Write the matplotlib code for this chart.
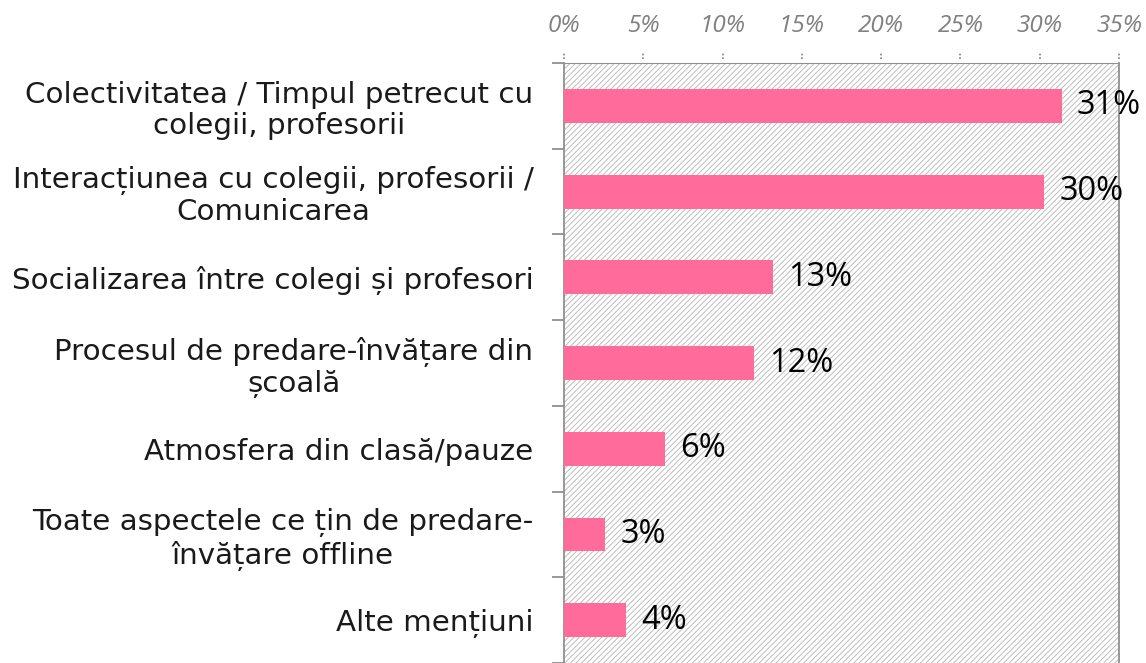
import matplotlib
matplotlib.use("Agg")
import matplotlib.pyplot as plt
import matplotlib.transforms as mtransforms
import numpy as np

categories = [
    "Colectivitatea / Timpul petrecut cu\ncolegii, profesorii",
    "Interacțiunea cu colegii, profesorii /\nComunicarea",
    "Socializarea între colegi și profesori",
    "Procesul de predare-învățare din\nșcoală",
    "Atmosfera din clasă/pauze",
    "Toate aspectele ce țin de predare-\nînvățare offline",
    "Alte mențiuni",
]
values = [31.4, 30.3, 13.2, 12.0, 6.4, 2.6, 3.9]
value_labels = ["31%", "30%", "13%", "12%", "6%", "3%", "4%"]
xticks = [0, 5, 10, 15, 20, 25, 30, 35]
xtick_labels = ["0%", "5%", "10%", "15%", "20%", "25%", "30%", "35%"]

plt.rcParams['hatch.linewidth'] = 0.7
plt.rcParams['hatch.color'] = '#bdbdbd'

W, H = 1146, 663
fig = plt.figure(figsize=(W / 100, H / 100), dpi=100)
left, right, top, bottom = 564, 1119, 63, 663
ax = fig.add_axes([left / W, 1 - bottom / H, (right - left) / W, (bottom - top) / H])

ax.patch.set_facecolor('white')
ax.patch.set_hatch('//////')
ax.patch.set_edgecolor('#bdbdbd')

y = np.arange(len(categories))
ax.barh(y, values, height=0.395, color='#ff6b9a', zorder=3)
ax.set_xlim(0, 35)
ax.set_ylim(6.476, -0.5)

for yi, v, lab in zip(y, values, value_labels):
    ax.text(v + 0.95, yi, lab, va='center', ha='left', fontsize=23.5,
            family='Open Sans', color='black', zorder=4)

# x axis on top
ax.xaxis.tick_top()
ax.set_xticks(xticks)
ax.set_xticklabels(xtick_labels, fontsize=17.5, style='italic', color='#808080',
                   family='Open Sans')
ax.tick_params(axis='x', length=0, pad=18)
# small dotted tick marks detached from the top spine
trans = mtransforms.blended_transform_factory(ax.transData, ax.transAxes)
ax.vlines(xticks, 1.0065, 1.016, transform=trans, colors='#808080',
          linestyles=(0, (1, 1.2)), linewidth=1.2, clip_on=False)

# y axis: ticks at boundaries, labels at centers
ax.set_yticks(np.arange(len(categories) + 1) - 0.5)
ax.set_yticklabels([])
ax.tick_params(axis='y', which='major', length=9, color='#909090', width=1.3)
ax.set_yticks(y, minor=True)
ax.set_yticklabels(categories, minor=True, fontsize=21.2, color='#1a1a1a',
                   family='DejaVu Sans', multialignment='center', linespacing=1.15)
ax.tick_params(axis='y', which='minor', length=0, pad=22)

for s in ['left', 'right']:
    ax.spines[s].set_color('#909090')
    ax.spines[s].set_linewidth(1.3)
ax.spines['top'].set_color('#909090')
ax.spines['top'].set_linestyle((0, (1, 1)))
ax.spines['bottom'].set_visible(False)

fig.savefig("out.png", dpi=100)
